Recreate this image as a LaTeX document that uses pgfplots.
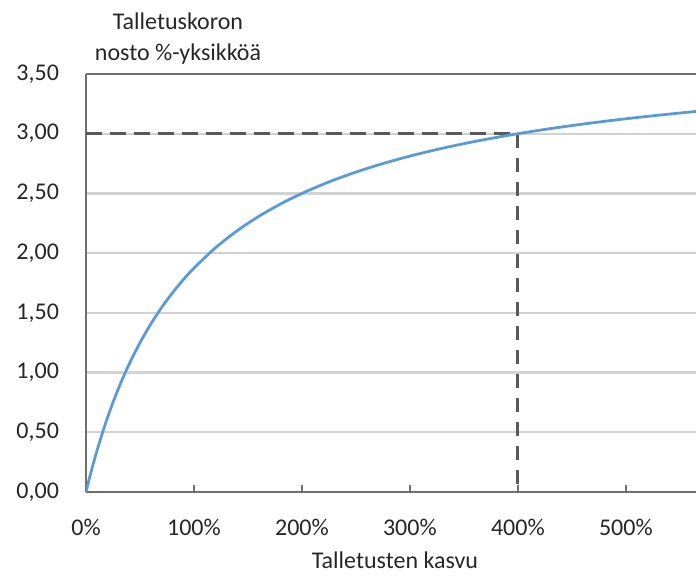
\documentclass[border=0pt]{standalone}
\usepackage{fontspec}
\setmainfont{Carlito}
\usepackage{pgfplots}
\pgfplotsset{compat=1.18}
\definecolor{curveblue}{HTML}{5B9BD5}
\definecolor{dashgray}{HTML}{595959}
\definecolor{gridgray}{HTML}{D2D2D2}
\definecolor{axisgray}{HTML}{6E6E6E}
\definecolor{txt}{HTML}{262626}
\begin{document}
\begin{tikzpicture}
\begin{axis}[
  scale only axis, width=305pt, height=209pt,
  xmin=0, xmax=5.65, ymin=0, ymax=3.5,
  axis lines*=left,
  axis line style={-, draw=axisgray, line width=1pt},
  xtick={0,1,2,3,4,5},
  xticklabels={0\%,100\%,200\%,300\%,400\%,500\%},
  ytick={0,0.5,1,1.5,2,2.5,3,3.5},
  yticklabels={{0,00},{0,50},{1,00},{1,50},{2,00},{2,50},{3,00},{3,50}},
  ymajorgrids, grid style={draw=gridgray, line width=1.1pt},
  xtick align=inside, major tick length=3.5pt,
  x tick style={draw=axisgray, line width=0.8pt},
  y tick style={draw=none},
  tick label style={font=\fontsize{12}{14}\selectfont, text=txt},
  xticklabel style={yshift=-10pt},
  yticklabel style={anchor=east, xshift=-10pt},
]
\addplot[dashgray, line width=1.5pt, dash pattern=on 8pt off 4pt] coordinates {(0,3) (4,3)};
\addplot[dashgray, line width=1.5pt, dash pattern=on 7pt off 5pt] coordinates {(4,3) (4,0)};
\addplot[curveblue, line width=1.4pt, smooth] coordinates {
(0,0) (0.025,0.0915) (0.05,0.1786) (0.075,0.2616) (0.1,0.3409) (0.15,0.4891)
(0.2,0.625) (0.25,0.75) (0.3,0.8654) (0.35,0.9722) (0.4,1.0714) (0.5,1.25)
(0.6,1.4063) (0.7,1.5441) (0.8,1.6667) (0.9,1.7763) (1.0,1.875) (1.2,2.0455)
(1.4,2.1875) (1.6,2.3077) (1.8,2.4107) (2.0,2.5) (2.25,2.5962) (2.5,2.6786)
(2.75,2.75) (3.0,2.8125) (3.25,2.8676) (3.5,2.9167) (3.75,2.9605) (4.0,3.0)
(4.25,3.0357) (4.5,3.0682) (4.75,3.0978) (5.0,3.125) (5.25,3.1499) (5.5,3.1731) (5.65,3.1861)};
\draw[axisgray, line width=1pt] (rel axis cs:0,1) -- (rel axis cs:1,1);
\coordinate (bl) at (rel axis cs:0,0);
\coordinate (tl) at (rel axis cs:0,1);
\coordinate (tr) at (rel axis cs:1,1);
\end{axis}
\node[anchor=base, font=\fontsize{12}{14}\selectfont, text=txt] at ([shift={(46pt,22.3pt)}]tl) {Talletuskoron};
\node[anchor=base, font=\fontsize{12}{14}\selectfont, text=txt] at ([shift={(46pt,6.5pt)}]tl) {nosto \%-yksikköä};
\node[anchor=base, font=\fontsize{12}{14}\selectfont, text=txt] at ([shift={(154.5pt,-38.5pt)}]bl) {Talletusten kasvu};
\pgfresetboundingbox
\path ([shift={(-43pt,-42.35pt)}]bl) rectangle ([shift={(0pt,37pt)}]tr);
\end{tikzpicture}
\end{document}
